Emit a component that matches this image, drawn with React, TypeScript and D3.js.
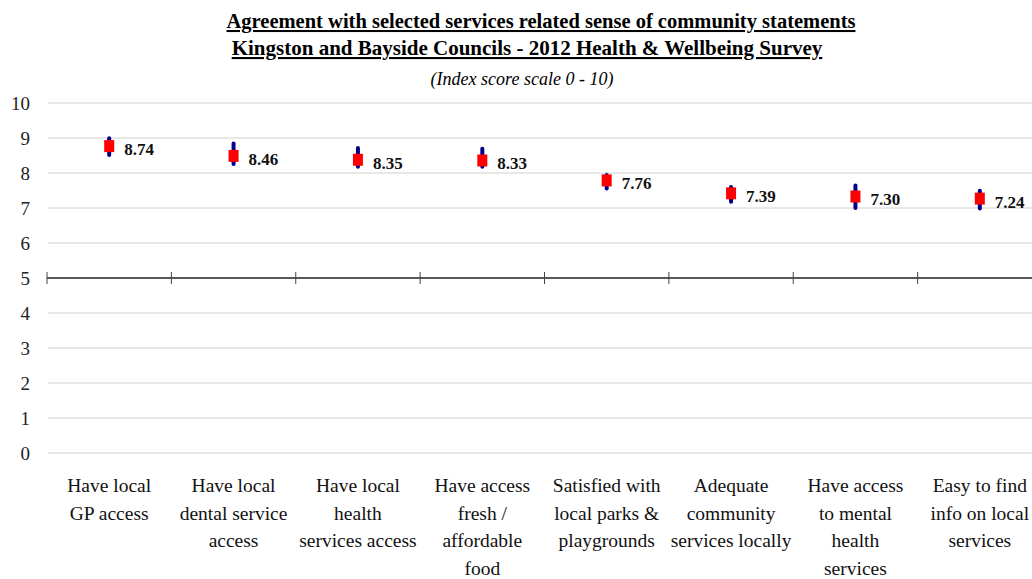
import React, { useEffect, useRef } from "react";
import * as d3 from "d3";

const categories: string[][] = [
  ["Have local", "GP access"],
  ["Have local", "dental service", "access"],
  ["Have local", "health", "services access"],
  ["Have access", "fresh /", "affordable", "food"],
  ["Satisfied with", "local parks &", "playgrounds"],
  ["Adequate", "community", "services locally"],
  ["Have access", "to mental", "health", "services"],
  ["Easy to find", "info on local", "services"],
];
const scores = [8.74, 8.46, 8.35, 8.33, 7.76, 7.39, 7.3, 7.24];
const upper = [9.05, 8.9, 8.77, 8.75, 8.0, 7.66, 7.7, 7.55];
const lower = [8.46, 8.2, 8.12, 8.12, 7.5, 7.12, 6.94, 6.93];
const yTicks = [0, 1, 2, 3, 4, 5, 6, 7, 8, 9, 10];
const titleLines = [
  "Agreement with selected services related sense of community statements",
  "Kingston and Bayside Councils - 2012 Health & Wellbeing Survey",
];
const subtitle = "(Index score scale 0 - 10)";

const W = 1032;
const H = 579;
const FONT = "'Liberation Serif', 'Times New Roman', 'DejaVu Serif', serif";

export default function App() {
  const ref = useRef<SVGSVGElement>(null);
  useEffect(() => {
    const svg = d3.select(ref.current);
    svg.selectAll("*").remove();
    const left = 47;
    const right = 1042;
    const y = d3.scaleLinear().domain([0, 10]).range([453, 103]);
    const x = d3
      .scaleBand<number>()
      .domain(categories.map((_, i) => i))
      .range([left, right]);

    // title
    const tg = svg.append("g").style("font-family", FONT).attr("fill", "#000");
    const titleX = [541, 527];
    titleLines.forEach((t, i) => {
      tg.append("text")
        .attr("x", titleX[i])
        .attr("y", 28 + i * 27)
        .attr("text-anchor", "middle")
        .attr("font-size", i === 0 ? 20.5 : 21)
        .attr("font-weight", "bold")
        .attr("text-decoration", "underline")
        .text(t);
    });
    tg.append("text")
      .attr("x", 522)
      .attr("y", 85)
      .attr("text-anchor", "middle")
      .attr("font-size", 18)
      .attr("font-style", "italic")
      .text(subtitle);

    // gridlines
    svg
      .append("g")
      .selectAll("line")
      .data(yTicks.filter((t) => t !== 5))
      .join("line")
      .attr("x1", left + 1)
      .attr("x2", W)
      .attr("y1", (d) => y(d))
      .attr("y2", (d) => y(d))
      .attr("stroke", "#d0d0d0")
      .attr("stroke-width", 1);

    // y labels
    svg
      .append("g")
      .selectAll("text")
      .data(yTicks)
      .join("text")
      .attr("x", 30)
      .attr("y", (d) => y(d))
      .attr("dy", "0.35em")
      .attr("text-anchor", "end")
      .style("font-family", FONT)
      .attr("font-size", 19)
      .attr("fill", "#222")
      .text((d) => String(d));

    // x axis at 5
    const axisY = y(5);
    svg
      .append("line")
      .attr("x1", left)
      .attr("x2", W)
      .attr("y1", axisY)
      .attr("y2", axisY)
      .attr("stroke", "#222")
      .attr("stroke-width", 1.3);
    const bounds = categories.map((_, i) => x(i)!);
    svg
      .append("g")
      .selectAll("line")
      .data(bounds)
      .join("line")
      .attr("x1", (d) => d)
      .attr("x2", (d) => d)
      .attr("y1", axisY - 6)
      .attr("y2", axisY + 6)
      .attr("stroke", "#444")
      .attr("stroke-width", 1);

    // x labels
    const xl = svg.append("g").style("font-family", FONT).attr("font-size", 19.5).attr("fill", "#111");
    categories.forEach((lines, i) => {
      const cx = x(i)! + x.bandwidth() / 2;
      lines.forEach((ln, j) => {
        xl.append("text")
          .attr("x", cx)
          .attr("y", 492 + j * 27.6)
          .attr("text-anchor", "middle")
          .text(ln);
      });
    });

    // points
    const pg = svg.append("g");
    scores.forEach((v, i) => {
      const cx = x(i)! + x.bandwidth() / 2;
      pg.append("line")
        .attr("x1", cx)
        .attr("x2", cx)
        .attr("y1", y(upper[i]) + 2)
        .attr("y2", y(lower[i]) - 2)
        .attr("stroke", "#00008b")
        .attr("stroke-width", 4)
        .attr("stroke-linecap", "round");
      pg.append("rect")
        .attr("x", cx - 5)
        .attr("y", y(v) - 7)
        .attr("width", 10)
        .attr("height", 12)
        .attr("fill", "#ff0000");
      pg.append("text")
        .attr("x", cx + 15)
        .attr("y", y(v) + 2)
        .attr("dy", "0.35em")
        .style("font-family", FONT)
        .attr("font-size", 17)
        .attr("font-weight", "bold")
        .attr("fill", "#111")
        .text(v.toFixed(2));
    });
  }, []);
  return (
    <svg
      ref={ref}
      width={W}
      height={H}
      style={{ position: "absolute", left: 0, top: 0, background: "#fff" }}
    />
  );
}
